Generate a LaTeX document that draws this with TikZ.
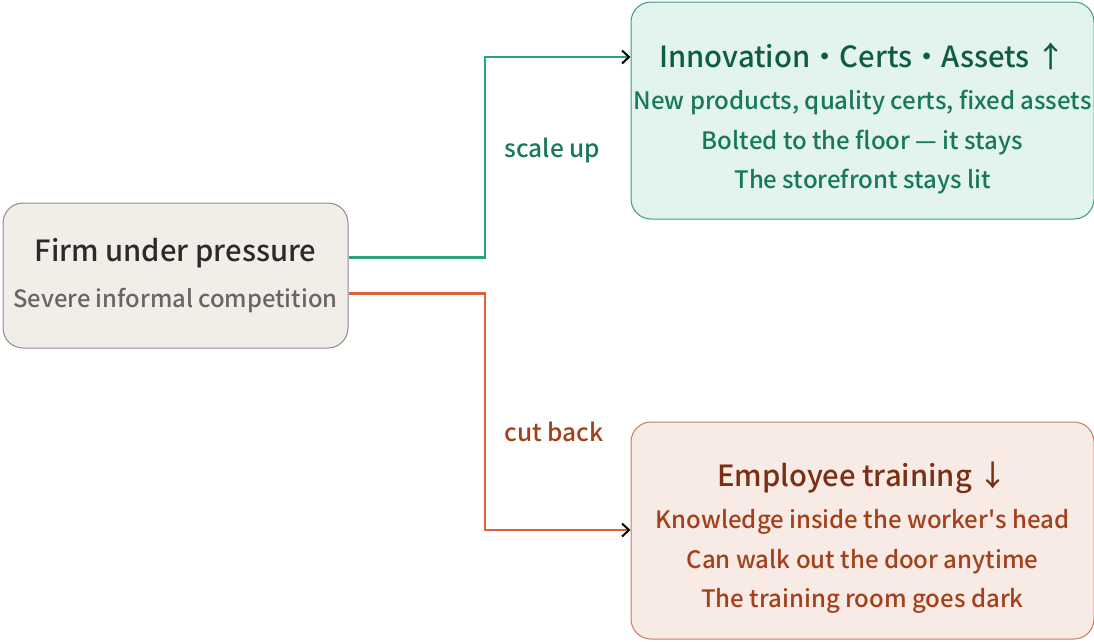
\documentclass[tikz,border=0pt]{standalone}
\usepackage{fontspec}
\setmainfont{Noto Sans CJK SC Medium}
\usetikzlibrary{arrows.meta, positioning}

\definecolor{firmfill}{HTML}{F1EEE8}
\definecolor{firmline}{HTML}{8C8C8C}
\definecolor{firmtext}{HTML}{2A2A2A}
\definecolor{firmsub}{HTML}{666666}
\definecolor{upfill}{HTML}{E2F4EC}
\definecolor{upline}{HTML}{3E9C7A}
\definecolor{uptitle}{HTML}{0F5C46}
\definecolor{uptext}{HTML}{17795A}
\definecolor{upwire}{HTML}{2BA37A}
\definecolor{downfill}{HTML}{F8EAE4}
\definecolor{downline}{HTML}{C27C64}
\definecolor{downtitle}{HTML}{7A2E14}
\definecolor{downtext}{HTML}{A4401C}
\definecolor{downwire}{HTML}{D9623A}

\begin{document}
\begin{tikzpicture}[
  x=1pt, y=-1pt,
  box/.style={rectangle, draw, rounded corners=20pt, line width=1pt, align=center, inner sep=0pt},
  firmbox/.style={box, fill=firmfill, draw=firmline, minimum width=345pt, minimum height=145pt},
  outbox/.style={box, minimum width=463pt, minimum height=217pt, font=\fontsize{24}{39.5}\selectfont},
  wire/.style={line width=2.4pt, -{Straight Barb[black, length=7pt, width=13pt, line width=2pt]}},
  tag/.style={font=\fontsize{24.5}{28}\selectfont, anchor=west}
]
  \useasboundingbox (0,0) rectangle (1094,641);

  \node[firmbox] (firm) at (175.5,275.5)
    {{\fontsize{29.2}{34}\selectfont\color{firmtext}Firm under pressure}\\[19pt]
     {\fontsize{23.8}{26}\selectfont\color{firmsub}Severe informal competition}};

  \node[outbox, fill=upfill, draw=upline, text=uptext,
        above right=-17pt and 282pt of firm] (up)
    {{\fontsize{29.2}{34}\selectfont\color{uptitle}\rule{0pt}{41pt}Innovation·Certs·Assets ↑}\\[3pt]
     New products, quality certs, fixed assets\\
     Bolted to the floor — it stays\\
     The storefront stays lit};

  \node[outbox, fill=downfill, draw=downline, text=downtext,
        below right=73pt and 282pt of firm] (down)
    {{\fontsize{29.2}{34}\selectfont\color{downtitle}\rule{0pt}{39pt}Employee training ↓}\\[3pt]
     Knowledge inside the worker\textquotesingle s head\\
     Can walk out the door anytime\\
     The training room goes dark};

  % elbow connectors
  \draw[wire, upwire] ([yshift=18pt]firm.east) -| (485,57) -- (up.west |- 0,57);
  \draw[wire, downwire] ([yshift=-18pt]firm.east) -| (485,530) -- (down.west |- 0,530);

  \node[tag, text=uptext] (scale) at (501,150) {scale up};
  \node[tag, text=downtext] (cut) at (501,432) {cut back};
\end{tikzpicture}
\end{document}
